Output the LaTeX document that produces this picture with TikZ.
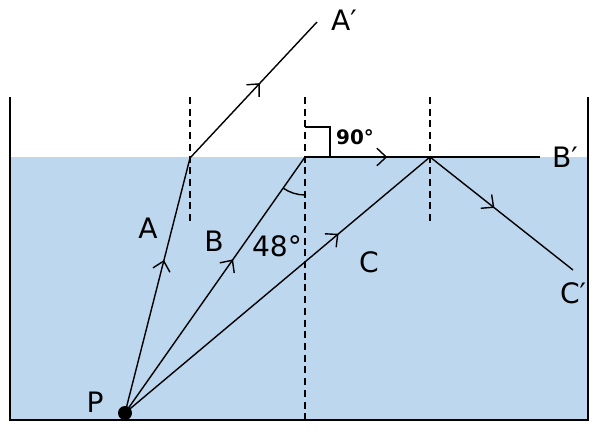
\documentclass[tikz,border=0pt]{standalone}
\usepackage{fontspec}
\setmainfont{DejaVu Sans}
\usetikzlibrary{arrows.meta,decorations.markings}
\tikzset{
 ray/.style={line width=1.2pt},
 midarr/.style={ray,postaction={decorate},decoration={markings,mark=at position #1 with {\arrow{Straight Barb[length=8pt,width=15pt,line width=1.2pt]}}}},
 normal/.style={line width=1.2pt,dash pattern=on 6pt off 4pt},
 lbl/.style={font=\fontsize{24}{28}\selectfont}
}
\begin{document}
\begin{tikzpicture}[x=0.03cm,y=-0.03cm]
\useasboundingbox (0,0) rectangle (600,433);
\fill[fill={rgb,255:red,189;green,215;blue,238}] (10,157) rectangle (588,420);
\draw[line width=1.3pt] (10,97) -- (10,420) -- (588,420) -- (588,97);
\coordinate (P) at (125,413);
\coordinate (SA) at (190,158);
\coordinate (SB) at (305,157);
\coordinate (SC) at (430,157);
\coordinate (A') at (317,22);
\coordinate (B') at (540,157);
\coordinate (C') at (573,270);
\draw[normal] (190,97) -- (190,225);
\draw[normal] (305,97) -- (305,420);
\draw[normal] (430,97) -- (430,225);
\draw[midarr=0.6] (P) -- (SA);
\draw[midarr=0.55] (SA) -- (A');
\draw[midarr=0.6] (P) -- (SB);
\draw[midarr=0.35] (SB) -- (B');
\draw[midarr=0.7] (P) -- (SC);
\draw[midarr=0.45] (SC) -- (C');
\draw[line width=1.2pt] (305,127) -- (330,127) -- (330,157);
\draw[line width=1.2pt] (SB) ++(125.1:38) arc[start angle=125.1,end angle=90,radius=38];
\fill (P) circle[radius=7];
\node[lbl] (lA') at (344,20) {A′};
\node[lbl] (lB') at (565,157) {B′};
\node[lbl] (lC') at (573,293) {C′};
\node[lbl] (lA) at (148,228) {A};
\node[lbl] (lB) at (214,241) {B};
\node[lbl] (lC) at (369,262) {C};
\node[lbl] (lP) at (95,402) {P};
\node[lbl] (l48) at (277,246) {48°};
\node[font=\bfseries\fontsize{17}{19}\selectfont] (l90) at (355,137) {90°};
\end{tikzpicture}
\end{document}
